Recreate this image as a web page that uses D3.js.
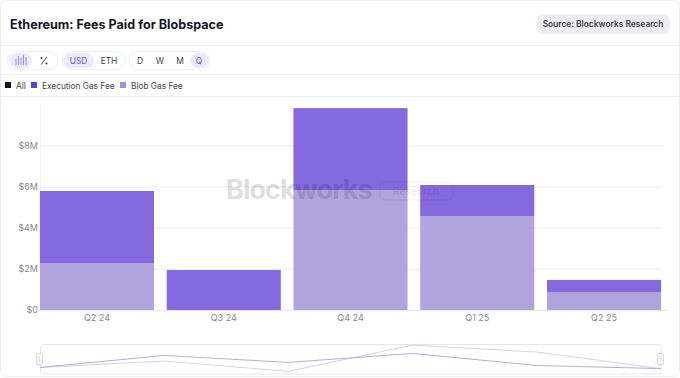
<!DOCTYPE html>
<html>
<head>
<meta charset="utf-8">
<script src="https://cdn.jsdelivr.net/npm/d3@7"></script>
<style>
  html, body { margin: 0; padding: 0; background: #fff; }
  svg { display: block; font-family: Inter, "Noto Sans", sans-serif; }
</style>
</head>
<body>
<div id="chart"></div>
<script>
const quarters = ["Q2 24", "Q3 24", "Q4 24", "Q1 25", "Q2 25"];
const blobFee = [2.28, 0, 5.82, 4.56, 0.87];
const execFee = [3.5, 1.94, 3.98, 1.51, 0.59];
const yTicks = [0, 2, 4, 6, 8];
const legendNames = ["All", "Execution Gas Fee", "Blob Gas Fee"];
const legendColors = ["#111111", "#5b3fd0", "#9d8fdb"];
// overview strip under the chart
const overviewA = [1.8, 6.1, 3.6, 6.8, 2.5, 1.4];
const overviewB = [1.8, 4.1, 0.4, 9.8, 7.3, 1.4];

const width = 680, height = 378;
const purple = "#8468de", lilac = "#b0a4dc";

const svg = d3.select("#chart").append("svg")
    .attr("width", width).attr("height", height);

// card and dividers
svg.append("rect")
    .attr("x", 0.5).attr("y", 0.5).attr("width", width - 1).attr("height", height - 2)
    .attr("rx", 6).attr("fill", "#fff").attr("stroke", "#ececee");
[45.5, 74.5, 96.5].forEach(y => {
    svg.append("line").attr("x1", 1).attr("x2", width - 1).attr("y1", y).attr("y2", y)
        .attr("stroke", "#eeeef0");
});

svg.append("text").attr("x", 10).attr("y", 28.5)
    .attr("font-size", 12.6).attr("font-weight", 700).attr("fill", "#16161f")
    .text("Ethereum: Fees Paid for Blobspace");

svg.append("rect").attr("x", 536.5).attr("y", 14.5).attr("width", 133.5).attr("height", 19.5)
    .attr("rx", 6).attr("fill", "#eeeef0");
svg.append("text").attr("x", 603).attr("y", 27.3).attr("text-anchor", "middle")
    .attr("font-size", 8.4).attr("font-weight", 600).attr("fill", "#3c3c46")
    .text("Source: Blockworks Research");

// toolbar pills
const pills = svg.append("g");
function pill(x, w) {
    pills.append("rect").attr("x", x).attr("y", 51.5).attr("width", w).attr("height", 18)
        .attr("rx", 9).attr("fill", "#fff").attr("stroke", "#f0f0f3");
}
function chip(x, w) {
    pills.append("rect").attr("x", x).attr("y", 53).attr("width", w).attr("height", 15)
        .attr("rx", 7.5).attr("fill", "#ebe9fb");
}
function label(x, s, on) {
    pills.append("text").attr("x", x).attr("y", 63.5).attr("text-anchor", "middle")
        .attr("font-size", 8.4).attr("fill", on ? "#6a5bcf" : "#3c3c46").text(s);
}
pill(7, 51); chip(9, 23);
pill(62, 63); chip(63, 31);
pill(129, 81); chip(190, 19);
label(78.5, "USD", true); label(109, "ETH", false);
label(140, "D", false); label(160, "W", false); label(180, "M", false); label(199, "Q", true);

// bars icon
[[16, 59], [18.5, 56], [21, 58], [23.5, 55], [26, 57]].forEach(d => {
    pills.append("line").attr("x1", d[0]).attr("x2", d[0]).attr("y1", d[1]).attr("y2", 65)
        .attr("stroke", "#8f84dc").attr("stroke-width", 0.9);
});
// percent icon
pills.append("path").attr("d", "M41,64.5L47,57").attr("stroke", "#33333c").attr("stroke-width", 0.9);
pills.append("circle").attr("cx", 41.5).attr("cy", 58).attr("r", 1).attr("fill", "#33333c");
pills.append("circle").attr("cx", 46.5).attr("cy", 63.5).attr("r", 1).attr("fill", "#33333c");

// legend
const legendX = [5, 31, 120], legendTextX = [16, 42, 131];
legendNames.forEach((name, i) => {
    svg.append("rect").attr("x", legendX[i]).attr("y", 82).attr("width", 6).attr("height", 6)
        .attr("fill", legendColors[i]);
    svg.append("text").attr("x", legendTextX[i]).attr("y", 88.5)
        .attr("font-size", 8.3).attr("fill", "#44444c").text(name);
});

// main chart
const x = d3.scaleBand().domain(quarters).range([33.6, 667.4])
    .paddingInner(0.1).paddingOuter(0.05);
const y = d3.scaleLinear().domain([0, 10]).range([310, 104]);

const yAxis = svg.append("g").attr("transform", "translate(40,0)")
    .call(d3.axisLeft(y).tickValues(yTicks).tickSize(-621).tickPadding(2)
        .tickFormat(d => d === 0 ? "$0" : `$${d}M`));
yAxis.select(".domain").attr("stroke", "#f1f1f3").attr("d", "M0.5,104V310");
yAxis.selectAll("line").attr("stroke", "#ececee");
yAxis.selectAll("text").attr("font-size", 9).attr("fill", "#85858c")
    .attr("font-family", "Inter, sans-serif");

const stacked = quarters.map((q, i) => ({ q, blob: blobFee[i], exec: execFee[i] }));
svg.append("g").selectAll("rect").data(stacked).join("rect")
    .attr("x", d => x(d.q)).attr("width", x.bandwidth())
    .attr("y", d => y(d.blob)).attr("height", d => y(0) - y(d.blob))
    .attr("fill", lilac);
svg.append("g").selectAll("rect").data(stacked).join("rect")
    .attr("x", d => x(d.q)).attr("width", x.bandwidth())
    .attr("y", d => y(d.blob + d.exec)).attr("height", d => y(d.blob) - y(d.blob + d.exec))
    .attr("fill", purple);

const xAxis = svg.append("g").attr("transform", "translate(0,310)")
    .call(d3.axisBottom(x).tickSize(0).tickPadding(5));
xAxis.select(".domain").attr("stroke", "#e6e6ea");
xAxis.selectAll("text").attr("font-size", 9).attr("fill", "#85858c")
    .attr("font-family", "Inter, sans-serif");

// watermark
const mark = svg.append("g").attr("pointer-events", "none");
mark.append("text").attr("x", 226).attr("y", 199)
    .attr("font-size", 27).attr("font-weight", 700).attr("letter-spacing", -0.9)
    .attr("fill", "#000").attr("fill-opacity", 0.15).text("Blockworks");
mark.append("rect").attr("x", 380).attr("y", 182).attr("width", 73).attr("height", 18)
    .attr("rx", 5).attr("fill", "none").attr("stroke", "#000").attr("stroke-opacity", 0.06);
mark.append("text").attr("x", 416).attr("y", 195).attr("text-anchor", "middle")
    .attr("font-size", 10.5).attr("fill", "#000").attr("fill-opacity", 0.13).text("Research");

// overview strip
const overviewIdx = d3.range(overviewA.length);
const xo = d3.scalePoint().domain(overviewIdx).range([40, 661]);
const yo = d3.scaleLinear().domain([0, 10]).range([372.5, 344.5]);

svg.append("rect").attr("x", 40.5).attr("y", 344.5).attr("width", 620.5).attr("height", 29.5)
    .attr("rx", 3).attr("fill", "#fff").attr("stroke", "#e6e6ea");

const overviewLine = d3.line().x((d, i) => xo(i)).y(d => yo(d));
svg.append("path").datum(overviewB).attr("d", overviewLine)
    .attr("fill", "none").attr("stroke", "#d6d1f0").attr("stroke-width", 1);
svg.append("path").datum(overviewA).attr("d", overviewLine)
    .attr("fill", "none").attr("stroke", "#b4aae4").attr("stroke-width", 1);

[39.5, 660.5].forEach(cx => {
    svg.append("rect").attr("x", cx - 3).attr("y", 353.5).attr("width", 6).attr("height", 11)
        .attr("rx", 1.5).attr("fill", "#fff").attr("stroke", "#d6d6da");
    svg.append("rect").attr("x", cx - 1).attr("y", 356).attr("width", 2).attr("height", 6)
        .attr("fill", "#e4e4e8");
});
</script>
</body>
</html>
